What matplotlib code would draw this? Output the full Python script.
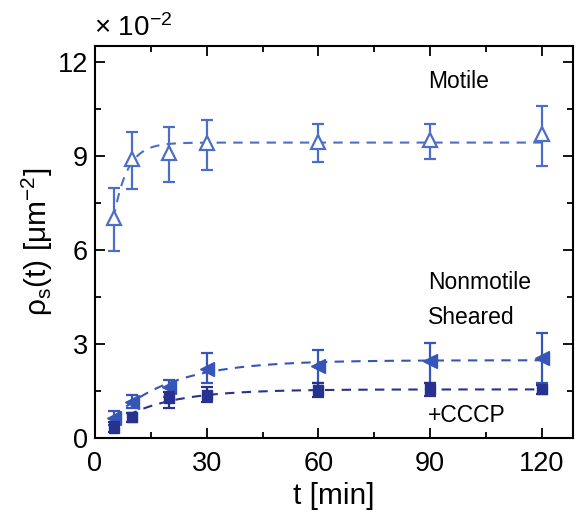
import numpy as np
import matplotlib
matplotlib.use("Agg")
import matplotlib.pyplot as plt
from matplotlib.ticker import MultipleLocator

plt.rcParams['font.family'] = ['Liberation Sans', 'DejaVu Sans']
plt.rcParams['mathtext.default'] = 'regular'

# data (units of 1e-2 um^-2)
t = [5, 10, 20, 30, 60, 90, 120]

motile = [7.0, 8.9, 9.1, 9.4, 9.45, 9.5, 9.68]
motile_lo = [5.97, 7.95, 8.17, 8.56, 8.8, 8.91, 8.67]
motile_hi = [7.97, 9.77, 9.93, 10.14, 10.0, 10.02, 10.6]

sheared = [0.63, 1.16, 1.63, 2.2, 2.31, 2.45, 2.55]
sheared_lo = [0.4, 0.95, 1.32, 1.74, 1.74, 1.75, 1.75]
sheared_hi = [0.86, 1.37, 1.86, 2.71, 2.82, 3.02, 3.34]

cccp = [0.32, 0.66, 1.26, 1.37, 1.52, 1.55, 1.55]
cccp_lo = [0.18, 0.5, 0.95, 1.14, 1.3, 1.35, 1.4]
cccp_hi = [0.5, 0.8, 1.47, 1.64, 1.74, 1.75, 1.7]

# saturating fits rho_inf*(1-exp(-t/tau))
fit_params = {'motile': (9.42, 3.68), 'sheared': (2.48, 16.2), 'cccp': (1.55, 14.0)}

c_mot = '#4d6ec6'
c_she = '#3556b8'
c_ccc = '#27318f'

fig = plt.figure(figsize=(5.79, 5.15), dpi=100)
ax = fig.add_axes([0.164, 0.1495, 0.826, 0.7612])

def yerr(y, lo, hi):
    y = np.array(y)
    return [y - np.array(lo), np.array(hi) - y]

tt = np.linspace(5, 120, 300)
for key, col in [('motile', c_mot), ('sheared', c_she), ('cccp', c_ccc)]:
    a, tau = fit_params[key]
    ax.plot(tt, a * (1 - np.exp(-tt / tau)), '--', color=col, lw=1.5, dashes=(4.5, 3.5), zorder=1)

ax.errorbar(t, motile, yerr=yerr(motile, motile_lo, motile_hi), fmt='^', ms=10,
            mfc='white', mec=c_mot, mew=1.6, ecolor=c_mot, elinewidth=1.6, capsize=4, capthick=1.6, zorder=3)
ax.errorbar(t, sheared, yerr=yerr(sheared, sheared_lo, sheared_hi), fmt='<', ms=10,
            mfc=c_she, mec=c_she, ecolor=c_she, elinewidth=1.6, capsize=4, capthick=1.6, zorder=3)
ax.errorbar(t, cccp, yerr=yerr(cccp, cccp_lo, cccp_hi), fmt='s', ms=7,
            mfc=c_ccc, mec=c_ccc, ecolor=c_ccc, elinewidth=1.6, capsize=4, capthick=1.6, zorder=4)

ax.text(89.4, 11.37, 'Motile', fontsize=16.5, va='center', ha='left')
ax.text(89.4, 4.95, 'Nonmotile', fontsize=16.5, va='center', ha='left')
ax.text(89.4, 3.83, 'Sheared', fontsize=16.5, va='center', ha='left')
ax.text(89.4, 0.73, '+CCCP', fontsize=16.5, va='center', ha='left')

ax.set_xlim(0, 128.4)
ax.set_ylim(0, 12.5)
ax.xaxis.set_major_locator(MultipleLocator(30))
ax.xaxis.set_minor_locator(MultipleLocator(15))
ax.yaxis.set_major_locator(MultipleLocator(3))
ax.yaxis.set_minor_locator(MultipleLocator(1.5))
ax.tick_params(which='both', direction='in', top=True, right=True, width=1.3)
ax.tick_params(which='major', length=7, labelsize=19.5)
ax.tick_params(axis='x', which='major', pad=9)
ax.tick_params(axis='y', which='major', pad=5)
ax.tick_params(which='minor', length=4)
for s in ax.spines.values():
    s.set_linewidth(1.5)

ax.set_xlabel('t [min]', fontsize=21.5, labelpad=4)
ax.set_ylabel(r'$\rho_s$(t) [$\mu$m$^{-2}$]', fontsize=21.5, labelpad=2)
fig.text(0.163, 0.918, r'$\times$ 10$^{-2}$', fontsize=20, ha='left', va='bottom')

fig.savefig('out.png', dpi=100)
